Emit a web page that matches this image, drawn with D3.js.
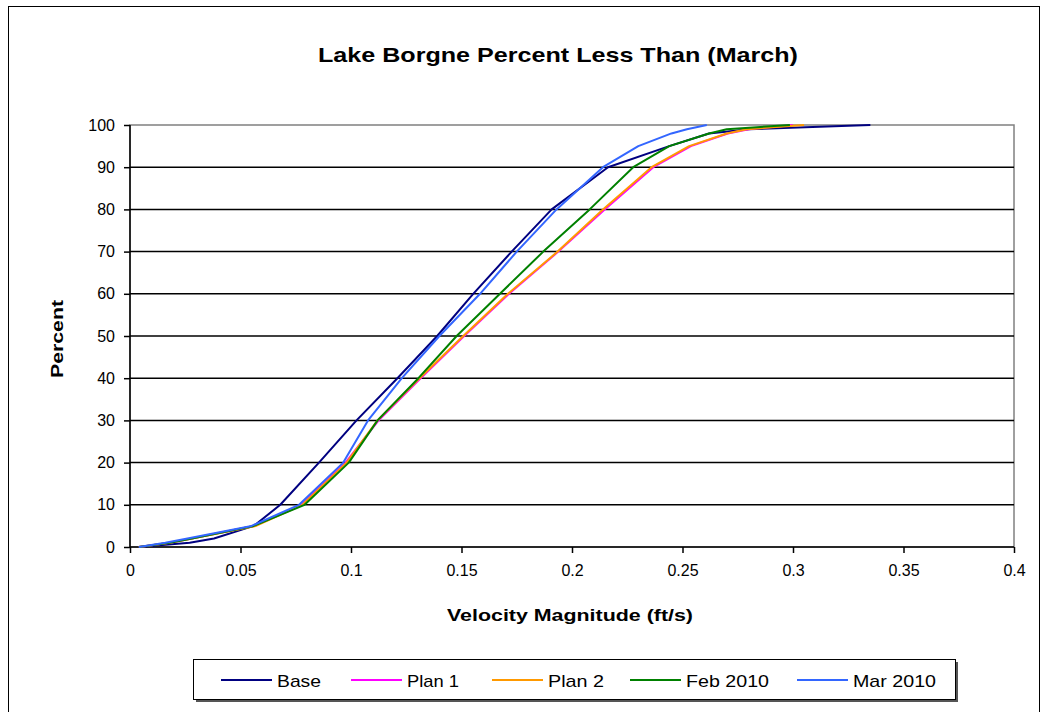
<!DOCTYPE html>
<html>
<head>
<meta charset="utf-8">
<script src="https://cdn.jsdelivr.net/npm/d3@7"></script>
<style>
  html, body { margin: 0; padding: 0; background: #fff; }
  svg { display: block; font-family: "Liberation Sans", Arial, sans-serif; }
</style>
</head>
<body>
<svg id="chart" width="1045" height="712"></svg>
<script>
// ---- Data ----
const percents = [0, 1, 2, 5, 10, 20, 30, 40, 50, 60, 70, 80, 90, 95, 98, 99, 100];
const baseVel  = [0.004, 0.027, 0.038, 0.056, 0.068, 0.0855, 0.1025, 0.121, 0.139, 0.1553, 0.1727, 0.1908, 0.2163, 0.244, 0.262, 0.280, 0.335];
const plan1Vel = [0.004, 0.018, 0.028, 0.056, 0.0775, 0.0975, 0.1125, 0.1315, 0.1512, 0.1715, 0.1938, 0.2148, 0.2368, 0.2538, 0.2705, 0.280, 0.300];
const plan2Vel = [0.004, 0.018, 0.028, 0.057, 0.078, 0.098, 0.112, 0.131, 0.1508, 0.171, 0.1935, 0.214, 0.236, 0.253, 0.270, 0.279, 0.305];
const feb2010Vel = [0.004, 0.018, 0.028, 0.056, 0.079, 0.099, 0.112, 0.1305, 0.1478, 0.1674, 0.187, 0.208, 0.2277, 0.244, 0.262, 0.270, 0.2986];
const mar2010Vel = [0.004, 0.016, 0.026, 0.055, 0.0765, 0.0965, 0.1077, 0.123, 0.140, 0.1584, 0.175, 0.193, 0.214, 0.230, 0.245, 0.252, 0.261];

const seriesNames  = ["Base", "Plan 1", "Plan 2", "Feb 2010", "Mar 2010"];
const seriesColors = ["#000080", "#FF00FF", "#FF9900", "#008000", "#3366FF"];
const seriesValues = [baseVel, plan1Vel, plan2Vel, feb2010Vel, mar2010Vel];

const xTicks = [0, 0.05, 0.1, 0.15, 0.2, 0.25, 0.3, 0.35, 0.4];
const yTicks = [0, 10, 20, 30, 40, 50, 60, 70, 80, 90, 100];

const titleText = "Lake Borgne Percent  Less Than (March)";
const xLabel = "Velocity Magnitude (ft/s)";
const yLabel = "Percent";

// ---- Layout ----
const svg = d3.select("#chart");
const plot = { left: 130, right: 1014, top: 125, bottom: 547 };

const x = d3.scaleLinear().domain([0, 0.4]).range([plot.left, plot.right]);
const y = d3.scaleLinear().domain([0, 100]).range([plot.bottom, plot.top]);

// outer chart border
svg.append("rect").attr("x", 8.5).attr("y", 6.5).attr("width", 1031).attr("height", 720)
  .attr("fill", "#fff").attr("stroke", "#000").attr("stroke-width", 1);

// plot area border (gray)
svg.append("rect").attr("x", plot.left).attr("y", plot.top)
  .attr("width", plot.right - plot.left).attr("height", plot.bottom - plot.top)
  .attr("fill", "none").attr("stroke", "#808080").attr("stroke-width", 1.5);

// gridlines
svg.append("g").selectAll("line").data(yTicks.filter(d => d > 0 && d < 100)).join("line")
  .attr("x1", plot.left).attr("x2", plot.right)
  .attr("y1", d => y(d)).attr("y2", d => y(d))
  .attr("stroke", "#000").attr("stroke-width", 1.5);

// axes
const xAxis = d3.axisBottom(x).tickValues(xTicks).tickSize(6).tickPadding(12)
  .tickFormat(d => d3.format("")(+d.toFixed(2)));
const yAxis = d3.axisLeft(y).tickValues(yTicks).tickSize(6).tickPadding(9);

const gx = svg.append("g").attr("transform", `translate(0,${plot.bottom})`).call(xAxis);
const gy = svg.append("g").attr("transform", `translate(${plot.left},0)`).call(yAxis);
[gx, gy].forEach(g => {
  g.select(".domain").attr("stroke", "#000").attr("stroke-width", 1.5);
  g.selectAll(".tick line").attr("stroke", "#000").attr("stroke-width", 1.5);
  g.selectAll(".tick text").attr("fill", "#000").style("font-size", "16px")
    .style("font-family", "'Liberation Sans', Arial, sans-serif");
});
gx.select(".domain").attr("d", `M${plot.left},0H${plot.right}`);
gy.select(".domain").attr("d", `M0,${plot.bottom}V${plot.top}`);

// lines
const line = d3.line().x(d => x(d[0])).y(d => y(d[1]));
seriesValues.forEach((vals, i) => {
  const pts = vals.map((v, j) => [v, percents[j]]);
  svg.append("path").datum(pts)
    .attr("d", line).attr("fill", "none")
    .attr("stroke", seriesColors[i]).attr("stroke-width", 2)
    .attr("stroke-linejoin", "round");
});

// title
svg.append("text").attr("x", 558).attr("y", 62).attr("text-anchor", "middle")
  .attr("textLength", 480).attr("lengthAdjust", "spacingAndGlyphs")
  .style("font-size", "21px").style("font-weight", "bold").text(titleText);

// axis titles
svg.append("text").attr("x", 570).attr("y", 621).attr("text-anchor", "middle")
  .attr("textLength", 246).attr("lengthAdjust", "spacingAndGlyphs")
  .style("font-size", "17px").style("font-weight", "bold").text(xLabel);
svg.append("text").attr("transform", `translate(63,${(plot.top + plot.bottom) / 2 + 3}) rotate(-90)`)
  .attr("text-anchor", "middle")
  .attr("textLength", 78).attr("lengthAdjust", "spacingAndGlyphs")
  .style("font-size", "17px").style("font-weight", "bold").text(yLabel);

// legend
const lg = svg.append("g");
lg.append("rect").attr("x", 196).attr("y", 662).attr("width", 762).attr("height", 40)
  .attr("fill", "#555");
lg.append("rect").attr("x", 193.5).attr("y", 659.5).attr("width", 762).attr("height", 40)
  .attr("fill", "#fff").attr("stroke", "#000").attr("stroke-width", 1);
const legendX = [221, 351, 492, 630, 797];
const legendTextW = [44, 52, 56, 83, 83];
seriesNames.forEach((name, i) => {
  lg.append("line").attr("x1", legendX[i]).attr("x2", legendX[i] + 51)
    .attr("y1", 680).attr("y2", 680)
    .attr("stroke", seriesColors[i]).attr("stroke-width", 2);
  lg.append("text").attr("x", legendX[i] + 56).attr("y", 687)
    .attr("textLength", legendTextW[i]).attr("lengthAdjust", "spacingAndGlyphs")
    .style("font-size", "17px").text(name);
});
</script>
</body>
</html>
